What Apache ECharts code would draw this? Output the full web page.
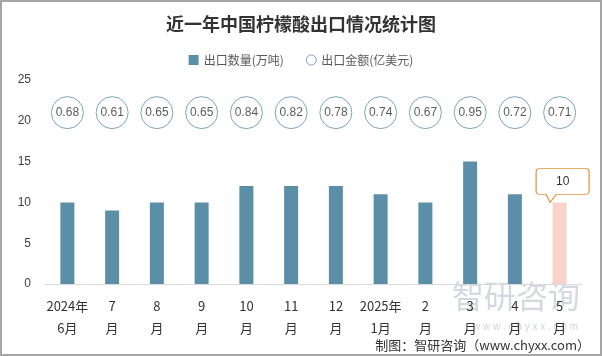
<!DOCTYPE html>
<html><head><meta charset="utf-8">
<script src="https://cdn.jsdelivr.net/npm/echarts@6/dist/echarts.min.js"></script>
<style>
html,body{margin:0;padding:0;background:#fff;}
#c{width:602px;height:356px;box-sizing:border-box;border:2px solid #a6a6a6;}
</style></head>
<body><div id="c"></div>
<script>
const categories = ['2024年\n6月','7\n月','8\n月','9\n月','10\n月','11\n月','12\n月','2025年\n1月','2\n月','3\n月','4\n月','5\n月'];
const volume = [10, 9, 10, 10, 12, 12, 12, 11, 10, 15, 11, 10];
const amount = [0.68, 0.61, 0.65, 0.65, 0.84, 0.82, 0.78, 0.74, 0.67, 0.95, 0.72, 0.71];
const yTicks = [0, 5, 10, 15, 20, 25];
const circleRow = 21;

const barColor = '#5b8fa8';
const lastColor = '#f8d3c9';
const chart = echarts.init(document.getElementById('c'));
const calloutPath = 'path://M4,0 L49,0 Q53,0 53,4 L53,22 Q53,26 49,26 L20,26 L14,34 L10,26 L4,26 Q0,26 0,22 L0,4 Q0,0 4,0 Z';

chart.setOption({
  animation: false,
  title: {
    text: '近一年中国柠檬酸出口情况统计图',
    left: 'center', top: 8,
    textStyle: {fontSize: 18, fontWeight: 'bold', color: '#333', fontFamily: 'Noto Sans CJK SC'}
  },
  legend: {
    top: 47, left: 'center', itemGap: 22, itemWidth: 10, itemHeight: 10,
    textStyle: {fontSize: 12, color: '#595959', fontFamily: 'Noto Sans CJK SC'},
    data: [
      {name: '出口数量(万吨)', icon: 'rect'},
      {name: '出口金额(亿美元)', icon: 'circle', itemStyle: {color: '#fff', borderColor: barColor, borderWidth: 1}}
    ]
  },
  grid: {left: 43, right: 18, top: 78, bottom: 70},
  xAxis: {
    type: 'category', data: categories,
    axisLine: {lineStyle: {color: '#d9d9d9'}},
    axisTick: {show: false},
    axisLabel: {color: '#333', fontSize: 13, lineHeight: 22, margin: 11, interval: 0, fontFamily: 'Noto Sans CJK SC'}
  },
  yAxis: {
    type: 'value', min: 0, max: 25, interval: 5,
    axisLine: {show: false}, axisTick: {show: false},
    splitLine: {show: false},
    axisLabel: {color: '#404040', fontSize: 12, margin: 14}
  },
  series: [
    {
      name: '出口数量(万吨)', type: 'bar', barWidth: 14,
      itemStyle: {color: barColor},
      data: volume.map((v, i) => i === volume.length - 1 ? {value: v, itemStyle: {color: lastColor}} : v),
      markPoint: {
        symbol: calloutPath, symbolSize: [53, 34], symbolKeepAspect: false,
        symbolOffset: [3, -17],
        itemStyle: {color: '#fff', borderColor: '#e8923a', borderWidth: 1},
        label: {show: true, color: '#333', fontSize: 12, offset: [0, -4], formatter: p => p.value},
        data: [{coord: [volume.length - 1, volume[volume.length - 1]], value: volume[volume.length - 1]}]
      }
    },
    {
      name: '出口金额(亿美元)', type: 'scatter', symbol: 'circle', symbolSize: 32,
      itemStyle: {color: '#fff', borderColor: barColor, borderWidth: 1},
      label: {show: true, position: 'inside', color: '#333', fontSize: 12,
        formatter: p => amount[p.dataIndex].toFixed(2)},
      data: amount.map(() => circleRow)
    }
  ],
  graphic: [
    {type: 'text', right: 20, bottom: 42, style: {text: '智研咨询', fontSize: 32, fill: 'rgba(160,170,185,0.45)', fontFamily: 'Noto Sans CJK SC'}},
    {type: 'text', right: 22, bottom: 22, style: {text: 'w w w . c h y x x . c o m', fontSize: 10, fill: 'rgba(160,170,185,0.5)'}},
    {type: 'text', right: 10, bottom: 2, style: {text: '制图：智研咨询（www.chyxx.com）', fontSize: 13, fill: '#333', fontFamily: 'Noto Sans CJK SC'}}
  ]
});
</script></body></html>
